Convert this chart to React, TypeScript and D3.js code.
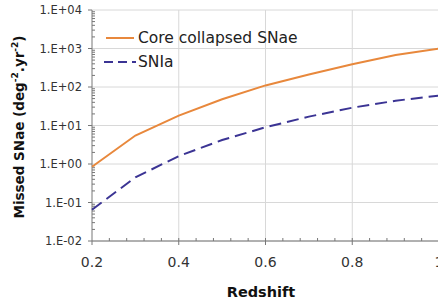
import React, { useEffect, useRef } from 'react';
import * as d3 from 'd3';

const redshift = [0.2, 0.3, 0.4, 0.5, 0.6, 0.7, 0.8, 0.9, 1.0];
const coreCollapsed = [0.85, 5.5, 18, 48, 110, 210, 390, 680, 1000];
const snIa = [0.065, 0.45, 1.6, 4.2, 9, 17, 29, 44, 60];
const yTicks = [1e-2, 1e-1, 1e0, 1e1, 1e2, 1e3, 1e4];
const yTickLabels = ['1.E-02', '1.E-01', '1.E+00', '1.E+01', '1.E+02', '1.E+03', '1.E+04'];
const xTicks = [0.2, 0.4, 0.6, 0.8, 1.0];
const xTickLabels = ['0.2', '0.4', '0.6', '0.8', '1'];
const seriesNames = ['Core collapsed SNae', 'SNIa'];

const App = () => {
    const svgRef = useRef<SVGSVGElement>(null);

    useEffect(() => {
        const svg = d3.select(svgRef.current);
        svg.selectAll('*').remove();

        const width = 438;
        const height = 304;
        const margin = { top: 10, right: -1, bottom: 63, left: 92 };
        const font = 'Verdana, "DejaVu Sans", sans-serif';

        const x = d3.scaleLinear().domain([0.2, 1.0]).range([margin.left, width - margin.right]);
        const y = d3.scaleLog().domain([1e-2, 1e4]).range([height - margin.bottom, margin.top]);

        // grid
        const grid = svg.append('g');
        grid.selectAll('.gy')
            .data(yTicks)
            .enter()
            .append('line')
            .attr('x1', margin.left)
            .attr('x2', width)
            .attr('y1', (d) => y(d))
            .attr('y2', (d) => y(d))
            .attr('stroke', '#d8d8d8')
            .attr('stroke-width', 1);
        grid.selectAll('.gx')
            .data(xTicks.slice(1))
            .enter()
            .append('line')
            .attr('x1', (d) => x(d))
            .attr('x2', (d) => x(d))
            .attr('y1', margin.top)
            .attr('y2', height - margin.bottom)
            .attr('stroke', '#d8d8d8')
            .attr('stroke-width', 1);

        // axes
        const axisColor = '#777';
        svg.append('line')
            .attr('x1', margin.left).attr('x2', margin.left)
            .attr('y1', margin.top).attr('y2', height - margin.bottom)
            .attr('stroke', axisColor);
        svg.append('line')
            .attr('x1', margin.left).attr('x2', width)
            .attr('y1', height - margin.bottom).attr('y2', height - margin.bottom)
            .attr('stroke', axisColor);

        // y minor ticks
        const minor: number[] = [];
        for (let e = -2; e < 4; e++) {
            for (let m = 2; m <= 9; m++) minor.push(m * Math.pow(10, e));
        }
        svg.selectAll('.ym')
            .data(minor)
            .enter()
            .append('line')
            .attr('x1', margin.left)
            .attr('x2', margin.left + 3)
            .attr('y1', (d) => y(d))
            .attr('y2', (d) => y(d))
            .attr('stroke', axisColor);
        svg.selectAll('.yM')
            .data(yTicks)
            .enter()
            .append('line')
            .attr('x1', margin.left - 4)
            .attr('x2', margin.left)
            .attr('y1', (d) => y(d))
            .attr('y2', (d) => y(d))
            .attr('stroke', axisColor);

        // x minor ticks
        const xMinor = d3.range(0.24, 1.0, 0.04);
        svg.selectAll('.xm')
            .data(xMinor)
            .enter()
            .append('line')
            .attr('x1', (d) => x(d))
            .attr('x2', (d) => x(d))
            .attr('y1', height - margin.bottom - 3)
            .attr('y2', height - margin.bottom)
            .attr('stroke', axisColor);
        svg.selectAll('.xM')
            .data(xTicks)
            .enter()
            .append('line')
            .attr('x1', (d) => x(d))
            .attr('x2', (d) => x(d))
            .attr('y1', height - margin.bottom)
            .attr('y2', height - margin.bottom + 4)
            .attr('stroke', axisColor);

        // tick labels
        svg.selectAll('.yl')
            .data(yTicks)
            .enter()
            .append('text')
            .attr('x', margin.left - 10)
            .attr('y', (d) => y(d))
            .attr('dy', '0.35em')
            .attr('text-anchor', 'end')
            .style('font-family', font)
            .style('font-size', '11.5px')
            .style('fill', '#333')
            .text((d, i) => yTickLabels[i]);
        svg.selectAll('.xl')
            .data(xTicks)
            .enter()
            .append('text')
            .attr('x', (d) => x(d))
            .attr('y', height - margin.bottom + 26)
            .attr('text-anchor', 'middle')
            .style('font-family', font)
            .style('font-size', '14px')
            .style('fill', '#333')
            .text((d, i) => xTickLabels[i]);

        // lines
        const line = d3.line<number>()
            .x((d, i) => x(redshift[i]))
            .y((d) => y(d));
        svg.append('path')
            .attr('d', line(coreCollapsed))
            .attr('fill', 'none')
            .attr('stroke', '#e8883c')
            .attr('stroke-width', 2);
        svg.append('path')
            .attr('d', line(snIa))
            .attr('fill', 'none')
            .attr('stroke', '#3b3494')
            .attr('stroke-width', 2)
            .attr('stroke-dasharray', '12,6');

        // legend
        const legend = svg.append('g');
        legend.append('line')
            .attr('x1', 106).attr('x2', 134).attr('y1', 38).attr('y2', 38)
            .attr('stroke', '#e8883c').attr('stroke-width', 2);
        legend.append('line')
            .attr('x1', 104).attr('x2', 136).attr('y1', 62).attr('y2', 62)
            .attr('stroke', '#3b3494').attr('stroke-width', 2)
            .attr('stroke-dasharray', '9,5');
        legend.selectAll('.lt')
            .data(seriesNames)
            .enter()
            .append('text')
            .attr('x', 138)
            .attr('y', (d, i) => 38 + i * 24)
            .attr('dy', '0.35em')
            .style('font-family', font)
            .style('font-size', '15.5px')
            .style('fill', '#222')
            .text((d) => d);

        // axis titles
        svg.append('text')
            .attr('x', (margin.left + width) / 2 - 4)
            .attr('y', 297)
            .attr('text-anchor', 'middle')
            .style('font-family', font)
            .style('font-size', '14.5px')
            .style('font-weight', 'bold')
            .style('fill', '#111')
            .text('Redshift');

        const yt = svg.append('text')
            .attr('transform', `translate(24,127) rotate(-90)`)
            .attr('text-anchor', 'middle')
            .style('font-family', font)
            .style('font-size', '13.5px')
            .style('font-weight', 'bold')
            .style('fill', '#111');
        yt.append('tspan').text('Missed SNae (deg');
        yt.append('tspan').attr('dy', -6).style('font-size', '9px').text('-2');
        yt.append('tspan').attr('dy', 6).text('.yr');
        yt.append('tspan').attr('dy', -6).style('font-size', '9px').text('-2');
        yt.append('tspan').attr('dy', 6).text(')');
    }, []);

    return (
        <svg ref={svgRef} width={438} height={304} style={{ position: 'absolute', left: 0, top: 0 }} />
    );
};

export default App;
